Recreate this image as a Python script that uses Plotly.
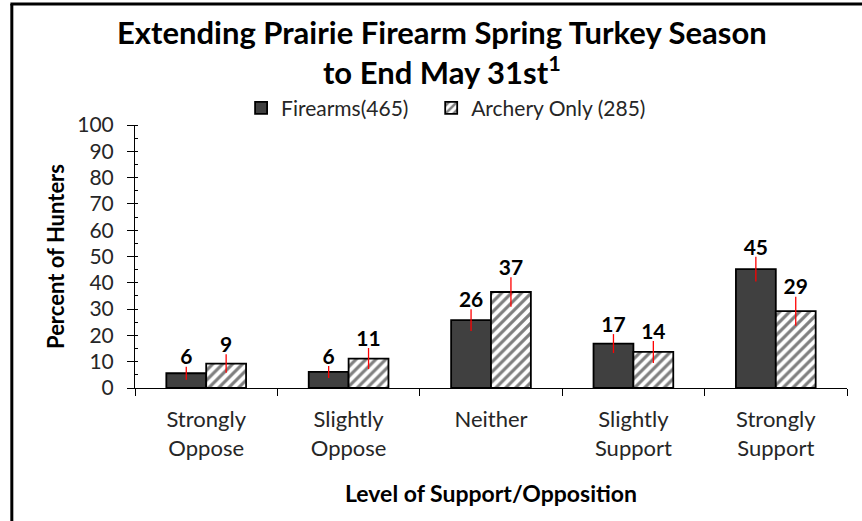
import plotly.graph_objects as go

categories = ["Strongly<br>Oppose", "Slightly<br>Oppose", "Neither", "Slightly<br>Support", "Strongly<br>Support"]
firearms = [5.6, 6.1, 25.8, 16.9, 45.2]
archery = [9.3, 11.2, 36.5, 13.7, 29.2]
firearms_err = [2.5, 2.3, 4.1, 3.6, 4.7]
archery_err = [3.5, 4.0, 5.6, 4.2, 5.5]
firearms_labels = ["6", "6", "26", "17", "45"]
archery_labels = ["9", "11", "37", "14", "29"]
series_names = ["Firearms(465)", "Archery Only (285)"]
title_lines = ["Extending Prairie Firearm Spring Turkey Season", "to End May 31st<sup>1</sup>"]
y_ticks = list(range(0, 101, 10))

FONT = "Lato"
TXT = "#262626"
LABEL_DROP = 1.8  # pull labels close to the error-bar tips
fig = go.Figure()

fig.add_trace(go.Bar(
    x=categories, y=firearms, name=series_names[0], offsetgroup="f", legend="legend",
    marker=dict(color="#404040", line=dict(color="black", width=1.8)),
    error_y=dict(type="data", array=firearms_err, color="red", thickness=1.3, width=0),
))
fig.add_trace(go.Bar(
    x=categories, y=archery, name=series_names[1], offsetgroup="a", legend="legend2",
    marker=dict(color="white", line=dict(color="black", width=1.8),
                pattern=dict(shape="/", fgcolor="black", bgcolor="white", size=7, solidity=0.45)),
    error_y=dict(type="data", array=archery_err, color="red", thickness=1.3, width=0),
))
# invisible label carriers placed at the top of each error bar
fig.add_trace(go.Bar(
    x=categories, y=[v + e - LABEL_DROP for v, e in zip(firearms, firearms_err)], offsetgroup="f",
    marker=dict(color="rgba(0,0,0,0)", line=dict(width=0)), showlegend=False, hoverinfo="skip",
    text=firearms_labels, textposition="outside", cliponaxis=False,
    textfont=dict(family=FONT, size=21, color="black", weight="bold"),
))
fig.add_trace(go.Bar(
    x=categories, y=[v + e - LABEL_DROP for v, e in zip(archery, archery_err)], offsetgroup="a",
    marker=dict(color="rgba(0,0,0,0)", line=dict(width=0)), showlegend=False, hoverinfo="skip",
    text=archery_labels, textposition="outside", cliponaxis=False,
    textfont=dict(family=FONT, size=21, color="black", weight="bold"),
))

legend_common = dict(orientation="h", yanchor="middle", xanchor="left", y=1.064,
                     font=dict(family=FONT, size=21, color=TXT), itemwidth=30,
                     bgcolor="rgba(0,0,0,0)")
fig.update_layout(
    width=862, height=521,
    margin=dict(l=135, r=15, t=125, b=133, autoexpand=False),
    paper_bgcolor="white", plot_bgcolor="white",
    font=dict(family=FONT, size=20, color=TXT),
    barmode="group", bargap=0.44, bargroupgap=0,
    legend=dict(x=0.149, **legend_common),
    legend2=dict(x=0.416, **legend_common),
    showlegend=True,
)
fig.add_annotation(text="<br>".join(title_lines), xref="paper", yref="paper", x=0.431, y=1.276,
                   xanchor="center", yanchor="middle", showarrow=False,
                   font=dict(family=FONT, size=31, color="black", weight="bold"))

fig.update_xaxes(
    automargin=False,
    showline=True, linecolor="black", linewidth=1, tickson="boundaries",
    ticks="outside", ticklen=7, tickcolor="black", showgrid=False,
    ticklabelstandoff=12,
    tickfont=dict(family=FONT, size=22, color=TXT),
    title=dict(text="Level of Support/Opposition", standoff=25,
               font=dict(family=FONT, size=23, color="black", weight="bold")),
)
fig.update_yaxes(
    automargin=False,
    range=[0, 100], tickvals=y_ticks, showline=True, linecolor="black", linewidth=1,
    ticks="outside", ticklen=7, tickcolor="black", showgrid=False, zeroline=False,
    minor=dict(dtick=5, ticks="inside", ticklen=3, tickcolor="black"),
    ticklabelstandoff=9,
    tickfont=dict(family=FONT, size=21, color=TXT),
    title=dict(text="Percent of Hunters", standoff=6,
               font=dict(family=FONT, size=22, color="black", weight="bold")),
)
fig.update_layout(yaxis2=dict(overlaying="y", range=[0, 100], tickvals=y_ticks, ticks="inside",
                              ticklen=7, tickcolor="black", showticklabels=False, showgrid=False,
                              zeroline=False, showline=False, side="left", automargin=False))

# outer chart frame (left and top edges visible)
fig.add_shape(type="line", xref="paper", yref="paper", x0=-0.173, x1=-0.173, y0=1.46, y1=-0.6,
              line=dict(color="black", width=3))
fig.add_shape(type="line", xref="paper", yref="paper", x0=-0.175, x1=1.05, y0=1.46, y1=1.46,
              line=dict(color="black", width=3))

fig.write_html("out.html", config={"displayModeBar": False},
               post_script="document.body.style.margin='0px';")
